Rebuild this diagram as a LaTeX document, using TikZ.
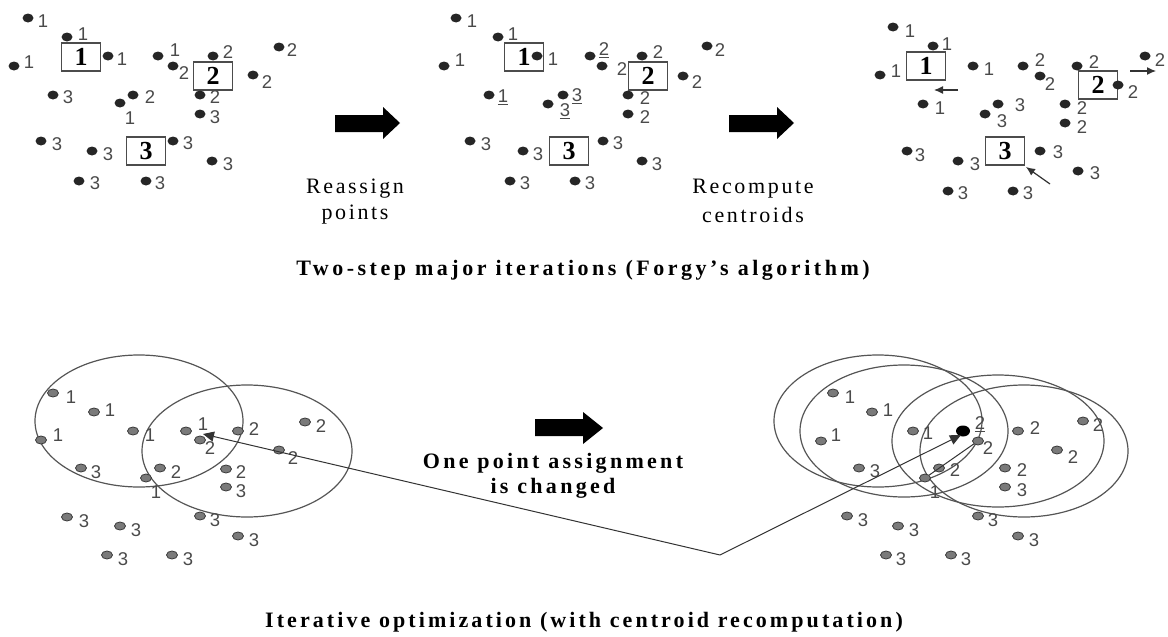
\documentclass[tikz,border=0pt]{standalone}
\usepackage{fontspec}
\setmainfont{Liberation Serif}
\newfontfamily\lblfont{Liberation Sans}
\newfontfamily\spacedfont[LetterSpace=12]{Liberation Serif}
\newfontfamily\spacedbold[LetterSpace=15]{Liberation Serif Bold}
\newfontfamily\capbold[LetterSpace=14]{Liberation Serif Bold}
\newfontfamily\capboldwide[LetterSpace=16]{Liberation Serif Bold}
\usetikzlibrary{arrows.meta,shapes.geometric}
\definecolor{lblgray}{HTML}{4A4A4A}
\definecolor{dotgray}{HTML}{7A7A7A}
\definecolor{dotedge}{HTML}{3A3A3A}
\definecolor{ringgray}{HTML}{555555}
\tikzset{
  topdot/.style={ellipse, fill=black!85, minimum width=11pt, minimum height=9pt, inner sep=0pt},
  botdot/.style={ellipse, fill=dotgray, draw=dotedge, line width=0.8pt, minimum width=11pt, minimum height=8pt, inner sep=0pt},
  bigdot/.style={ellipse, fill=black, minimum width=14pt, minimum height=11pt, inner sep=0pt},
  lbl/.style={font=\lblfont\fontsize{18.5}{18.5}\selectfont, text=lblgray, inner sep=0pt},
  cbox/.style={draw=black!70, line width=1.3pt, fill=white, minimum width=39pt, minimum height=28pt, inner sep=0pt, font=\bfseries\fontsize{26}{26}\selectfont},
  ring/.style={draw=ringgray, line width=1.2pt},
  steptext/.style={font=\spacedfont\fontsize{22}{22}\selectfont, inner sep=0pt},
  boldtext/.style={font=\spacedbold\fontsize{22}{22}\selectfont, inner sep=0pt},
  captext/.style={font=\capbold\fontsize{22}{22}\selectfont, inner sep=0pt},
  captextwide/.style={font=\capboldwide\fontsize{22}{22}\selectfont, inner sep=0pt},
  conn/.style={draw=black!80, line width=1pt},
  smallarrow/.style={draw=black!80, line width=1.2pt, -{Latex[length=9pt,width=8pt]}},
  bigarrowhead/.style={-{Triangle[length=11pt,width=10pt]}}
}
\begin{document}
\begin{tikzpicture}[x=1pt,y=-1pt]
\fill[white] (0,0) rectangle (1168,637);
\useasboundingbox (0,0) rectangle (1168,637);

% ---------- top left panel ----------
\node[cbox] (tlb1) at (81,57) {1};
\node[cbox] (tlb2) at (213,76) {2};
\node[cbox] (tlb3) at (146,151) {3};
\foreach \dx/\dy/\lx/\ly/\t [count=\i] in {
 28/18/43/21/1, 67/37/83/34/1, 108/56/122/59/1, 14/66/29/62/1, 158/56/175/50/1,
 173/66/184/73/2, 213/56/228/52/2, 279/47/292/50/2, 253/75/267/82/2,
 53/95/68/97/3, 133/95/150/97/2, 120/103/130/118/1, 200/95/215/97/2, 200/114/215/117/3,
 41/141/57/144/3, 92/151/108/154/3, 173/141/188/143/3, 212/161/228/164/3,
 79/181/95/183/3, 146/181/160/183/3}
 { \node[topdot] (ta\i) at (\dx,\dy) {}; \node[lbl] (tal\i) at (\lx,\ly) {\t}; }

% ---------- top middle panel ----------
\node[cbox] (tmb1) at (524,57) {1};
\node[cbox] (tmb2) at (648,76) {2};
\node[cbox] (tmb3) at (569,151) {3};
\foreach \dx/\dy/\lx/\ly/\t [count=\i] in {
 456/18/472/21/1, 498/37/513/34/1, 537/56/553/59/1, 444/66/460/60/1,
 590/56/604/50/\underline{2}, 602/66/622/69/2, 642/56/658/52/2, 707/46/720/50/2, 683/76/697/82/2,
 489/95/503/97/\underline{1}, 563/95/577/96/\underline{3}, 548/104/565/111/\underline{3},
 628/95/645/98/2, 628/114/645/117/2,
 470/141/486/144/3, 523/151/538/154/3, 603/141/618/143/3, 642/161/657/164/3,
 510/181/525/183/3, 575/181/590/183/3}
 { \node[topdot] (tb\i) at (\dx,\dy) {}; \node[lbl] (tbl\i) at (\lx,\ly) {\t}; }

% ---------- top right panel ----------
\node[cbox] (trb1) at (926,66) {1};
\node[cbox] (trb2) at (1098,85) {2};
\node[cbox] (trb3) at (1005,151) {3};
\foreach \dx/\dy/\lx/\ly/\t [count=\i] in {
 893/27/910/31/1, 933/46/947/44/1, 880/75/896/71/1, 973/66/989/69/1, 923/104/940/108/1,
 1023/66/1040/60/2, 1040/76/1050/84/2, 1077/66/1094/62/2, 1118/85/1133/92/2, 1145/56/1160/60/2,
 998/104/1020/105/3, 985/114/1002/121/3, 1065/104/1082/108/2, 1065/123/1082/127/2,
 907/151/920/155/3, 958/161/975/164/3, 1040/151/1058/152/3, 1078/171/1095/173/3,
 948/191/963/193/3, 1013/191/1028/193/3}
 { \node[topdot] (tc\i) at (\dx,\dy) {}; \node[lbl] (tcl\i) at (\lx,\ly) {\t}; }
\coordinate (m1s) at (958,90); \coordinate (m1e) at (934,90);
\coordinate (m2s) at (1130,71); \coordinate (m2e) at (1156,71);
\coordinate (m3s) at (1050,184); \coordinate (m3e) at (1026,167);
\draw[smallarrow] (m1s) -- (m1e);
\draw[smallarrow] (m2s) -- (m2e);
\draw[smallarrow] (m3s) -- (m3e);

% ---------- block arrows ----------
\fill[black] (335,115) -- (383,115) -- (383,107) -- (400,123) -- (383,139) -- (383,132) -- (335,132) -- cycle;
\fill[black] (729,115) -- (777,115) -- (777,107) -- (794,123) -- (777,139) -- (777,132) -- (729,132) -- cycle;
\fill[black] (535,419) -- (583,419) -- (583,412) -- (603,428) -- (583,444) -- (583,436) -- (535,436) -- cycle;

\node[steptext] (t1a) at (355,189) {Reassign};
\node[steptext] (t1b) at (355,215) {points};
\node[steptext] (t2a) at (753,189) {Recompute};
\node[steptext] (t2b) at (753,215) {centroids};
\node[captextwide] (cap1) at (583,270) {Two-step major iterations (Forgy’s algorithm)};
\node[boldtext] (t3a) at (553,463) {One point assignment};
\node[boldtext] (t3b) at (553,488) {is changed};
\node[captext] (cap2) at (584,622) {Iterative optimization (with centroid recomputation)};

% ---------- bottom left panel ----------
\draw[ring] (139,421) ellipse [x radius=104pt, y radius=66pt];
\draw[ring] (247,451) ellipse [x radius=105pt, y radius=66pt];
\foreach \dx/\dy/\lx/\ly/\t [count=\i] in {
 53/393/71/397/1, 94/412/110/410/1, 41/440/58/435/1, 133/431/150/435/1, 186/431/203/424/1,
 200/440/210/448/2, 238/431/254/429/2, 305/422/321/426/2, 279/450/293/458/2,
 81/468/96/472/3, 160/468/176/472/2, 146/478/156/492/1, 226/469/241/472/2, 226/487/241/491/3,
 67/517/84/521/3, 120/526/136/530/3, 200/516/215/520/3, 238/536/254/540/3,
 107/555/123/559/3, 172/555/188/559/3}
 { \node[botdot] (ba\i) at (\dx,\dy) {}; \node[lbl] (bal\i) at (\lx,\ly) {\t}; }

% ---------- bottom right panel ----------
\draw[ring] (878,421) ellipse [x radius=104pt, y radius=66pt];
\draw[ring] (904,431) ellipse [x radius=104pt, y radius=66pt];
\draw[ring] (998,441) ellipse [x radius=106pt, y radius=66pt];
\draw[ring] (1024,451) ellipse [x radius=104pt, y radius=66pt];
\foreach \dx/\dy/\lx/\ly/\t [count=\i] in {
 833/393/850/397/1, 872/412/888/410/1, 821/441/836/435/1, 913/431/928/433/1,
 978/441/988/448/2, 1018/431/1035/428/2, 1083/421/1098/425/2, 1057/450/1073/457/2,
 859/468/875/471/3, 939/468/955/470/2, 925/478/935/492/1, 1005/468/1022/470/2, 1005/487/1022/490/3,
 847/516/863/520/3, 898/526/914/530/3, 978/516/993/520/3, 1018/536/1034/540/3,
 886/555/901/559/3, 951/555/966/559/3}
 { \node[botdot] (bb\i) at (\dx,\dy) {}; \node[lbl] (bbl\i) at (\lx,\ly) {\t}; }
\node[bigdot] (moved) at (963,431) {};
\node[lbl] (movedl) at (980,424) {\underline{2}};
\draw[conn] (bb5) -- (bb11);

% ---------- connector ----------
\coordinate (vtx) at (720,555);
\coordinate (lend) at (203,434);
\coordinate (rend) at (961,435);
\draw[conn,bigarrowhead] (vtx) -- (lend);
\draw[conn,bigarrowhead] (vtx) -- (rend);
\end{tikzpicture}
\end{document}
